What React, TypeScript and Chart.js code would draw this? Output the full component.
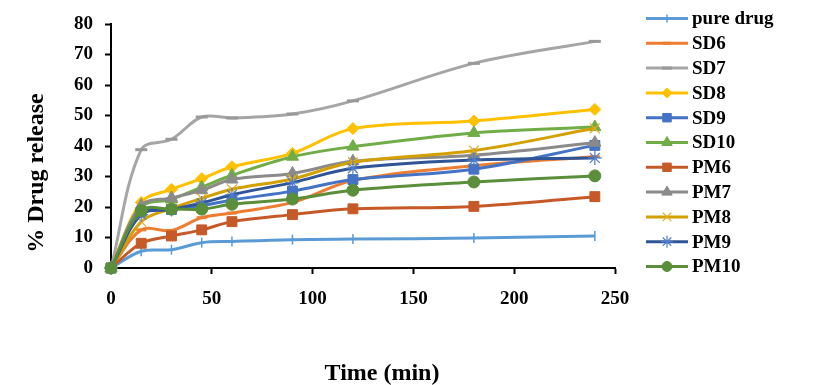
import React, { useEffect, useRef } from "react";
import { Chart, registerables } from "chart.js";
import { drawPoint } from "chart.js/helpers";

Chart.register(...registerables);

const timeMin = [0, 15, 30, 45, 60, 90, 120, 180, 240];
const seriesNames = ["pure drug", "SD6", "SD7", "SD8", "SD9", "SD10", "PM6", "PM7", "PM8", "PM9", "PM10"];
const pureDrug = [0, 5.5, 6, 8.3, 8.7, 9.3, 9.5, 9.8, 10.5];
const sd6 = [0, 12.5, 12.3, 16.5, 18, 21.5, 28.7, 33.5, 36.5];
const sd7 = [0, 38.8, 42.2, 49.5, 49.2, 50.5, 54.8, 67.1, 74.3];
const sd8 = [0, 21.5, 25.8, 29.3, 33.2, 37.6, 45.7, 48.2, 52];
const sd9 = [0, 18.3, 19.2, 20.4, 22.3, 25.2, 29, 32.4, 40.2];
const sd10 = [0, 20, 22.5, 26.5, 30.4, 36.5, 39.8, 44.3, 46.2];
const pm6 = [0, 8.1, 10.5, 12.5, 15.2, 17.5, 19.4, 20.2, 23.4];
const pm7 = [0, 20.5, 23, 25.5, 29, 31, 35, 37, 41.1];
const pm8 = [0, 15.2, 19.5, 22.8, 25.8, 29.2, 34.7, 38.5, 45.8];
const pm9 = [0, 17.5, 19.2, 21.3, 24, 28, 32.7, 35.4, 36.1];
const pm10 = [0, 18.8, 19.3, 19.3, 20.9, 22.6, 25.5, 28.2, 30.2];
const yTicks = [0, 10, 20, 30, 40, 50, 60, 70, 80];
const xTicks = [0, 50, 100, 150, 200, 250];

const allValues = [pureDrug, sd6, sd7, sd8, sd9, sd10, pm6, pm7, pm8, pm9, pm10];

const styles = [
  { line: "#5B9BD5", fill: "#5B9BD5", stroke: "#5B9BD5", ps: "line", rot: 90, r: 5, bw: 1.5 },
  { line: "#ED7D31", fill: "#ED7D31", stroke: "#ED7D31", ps: "line", rot: 0, r: 5, bw: 3 },
  { line: "#A5A5A5", fill: "#A5A5A5", stroke: "#999999", ps: "line", rot: 0, r: 6, bw: 3 },
  { line: "#FFC000", fill: "#FFC000", stroke: "#FFC000", ps: "rectRot", r: 6, rot: 0, bw: 1 },
  { line: "#4472C4", fill: "#4472C4", stroke: "#4472C4", ps: "rect", r: 7, rot: 0, bw: 1 },
  { line: "#70AD47", fill: "#70AD47", stroke: "#70AD47", ps: "triangle", r: 7, rot: 0, bw: 1 },
  { line: "#C55A28", fill: "#C55A28", stroke: "#C55A28", ps: "rect", r: 7, rot: 0, bw: 1 },
  { line: "#8A8A8A", fill: "#8A8A8A", stroke: "#8A8A8A", ps: "triangle", r: 7, rot: 0, bw: 1 },
  { line: "#D4A000", fill: "#D4A000", stroke: "#E0AE20", ps: "crossRot", r: 7, rot: 0, bw: 1.2 },
  { line: "#2F5597", fill: "#4472C4", stroke: "#4F7BC8", ps: "star", r: 7, rot: 0, bw: 1.2 },
  { line: "#5B8E3A", fill: "#5B8E3A", stroke: "#5B8E3A", ps: "circle", r: 6, rot: 0, bw: 1 },
];

const FONT = "'Liberation Serif', 'Times New Roman', serif";

const overlayPlugin = {
  id: "overlay",
  afterDraw(chart: any) {
    const ctx = chart.ctx as CanvasRenderingContext2D;
    ctx.save();
    // legend
    ctx.font = `bold 19px ${FONT}`;
    ctx.textBaseline = "middle";
    ctx.textAlign = "left";
    chart.data.datasets.forEach((ds: any, i: number) => {
      const st = styles[i];
      const y = 18.5 + i * 24.8;
      ctx.strokeStyle = st.line;
      ctx.lineWidth = 3;
      ctx.beginPath();
      ctx.moveTo(646, y);
      ctx.lineTo(688, y);
      ctx.stroke();
      ctx.fillStyle = st.fill;
      ctx.strokeStyle = st.stroke;
      ctx.lineWidth = st.bw;
      drawPoint(ctx, { pointStyle: st.ps, rotation: st.rot, radius: st.r - 1, borderWidth: st.bw } as any, 667, y);
      ctx.fillStyle = "#000";
      ctx.fillText(ds.label, 692, y + 1);
    });
    // axis titles
    ctx.font = `bold 24px ${FONT}`;
    ctx.fillStyle = "#000";
    ctx.textAlign = "center";
    ctx.textBaseline = "alphabetic";
    ctx.fillText("Time (min)", 382, 380);
    ctx.translate(43, 173);
    ctx.rotate(-Math.PI / 2);
    ctx.fillText("% Drug release", 0, 0);
    ctx.restore();
  },
};

export default function App() {
  const ref = useRef<HTMLCanvasElement | null>(null);
  useEffect(() => {
    document.body.style.margin = "0";
    if (!ref.current) return;
    const datasets = allValues.map((vals, i) => {
      const st = styles[i];
      return {
        label: seriesNames[i],
        data: vals.map((v, j) => ({ x: timeMin[j], y: v })),
        borderColor: st.line,
        backgroundColor: st.fill,
        borderWidth: 3,
        tension: 0.35,
        clip: false as any,
        pointStyle: st.ps,
        pointRotation: st.rot,
        pointRadius: st.r,
        pointBorderWidth: st.bw,
        pointBorderColor: st.stroke,
        pointBackgroundColor: st.fill,
        order: 20 - i,
      };
    });
    const tickFont = { family: FONT, size: 19, weight: "bold" as const };
    const chart = new Chart(ref.current, {
      type: "line",
      data: { datasets },
      plugins: [overlayPlugin],
      options: {
        animation: false,
        responsive: false,
        layout: { padding: { top: 24, right: 206, left: 0, bottom: 0 } },
        plugins: { legend: { display: false }, tooltip: { enabled: false } },
        scales: {
          x: {
            type: "linear",
            min: 0,
            max: 250,
            afterBuildTicks: (s: any) => { s.ticks = xTicks.map((v) => ({ value: v })); },
            afterFit: (s: any) => { s.height = 117; },
            ticks: { font: tickFont, color: "#000", padding: 14, maxRotation: 0 },
            grid: { drawOnChartArea: false, drawTicks: true, tickLength: 6, tickColor: "#000", tickWidth: 2 },
            border: { display: true, color: "#000", width: 2 },
          },
          y: {
            type: "linear",
            min: 0,
            max: 80,
            afterBuildTicks: (s: any) => { s.ticks = yTicks.map((v) => ({ value: v })); },
            afterFit: (s: any) => { s.width = 111; },
            ticks: { font: tickFont, color: "#000", padding: 12 },
            grid: { drawOnChartArea: false, drawTicks: true, tickLength: 6, tickColor: "#000", tickWidth: 2 },
            border: { display: true, color: "#000", width: 2 },
          },
        },
      },
    });
    return () => chart.destroy();
  }, []);
  return (
    <div style={{ position: "absolute", left: 0, top: 0, width: 821, height: 385, background: "#fff" }}>
      <canvas ref={ref} width={821} height={385} style={{ width: 821, height: 385 }} />
    </div>
  );
}
